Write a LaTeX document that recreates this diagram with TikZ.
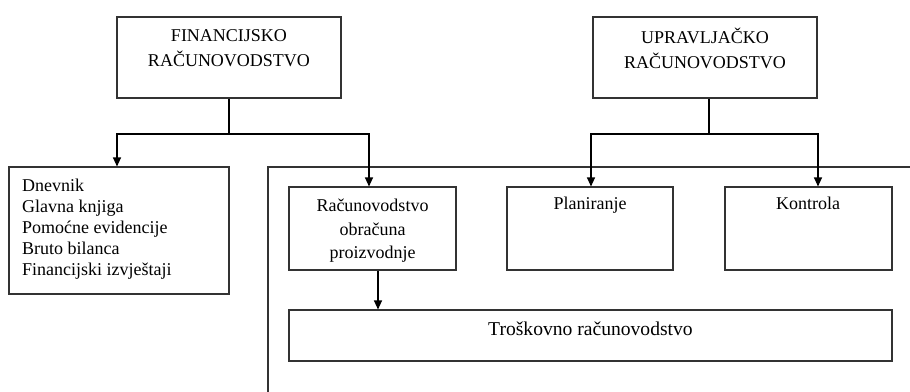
\documentclass[tikz,border=0pt]{standalone}
\usepackage{fontspec}
\setmainfont{Liberation Serif}
\usetikzlibrary{arrows.meta}
\begin{document}
\begin{tikzpicture}[x=1pt,y=-1pt,
  box/.style={draw=black!80, line width=1.1pt, rectangle, inner sep=0pt},
  txt/.style={font=\fontsize{18}{21}\selectfont, inner sep=0pt},
  arr/.style={line width=1.1pt, -{Triangle[length=9pt,width=8pt]}},
  ln/.style={line width=1.1pt}]
\useasboundingbox (0,0) rectangle (910,391);
% frame
\draw[ln, draw=black!80] (268,400) -- (268,167) -- (920,167);
% boxes
\node[box, minimum width=224pt, minimum height=81pt] (fin) at (229,57.5) {};
\node[box, minimum width=224pt, minimum height=81pt] (upr) at (705,57.5) {};
\node[box, minimum width=220pt, minimum height=127pt] (dn) at (119,230.5) {};
\node[box, minimum width=167pt, minimum height=83pt] (ro) at (372.5,228.5) {};
\node[box, minimum width=166pt, minimum height=83pt] (pl) at (590,228.5) {};
\node[box, minimum width=167pt, minimum height=83pt] (ko) at (808.5,228.5) {};
\node[box, minimum width=603pt, minimum height=51pt] (tro) at (590.5,335.5) {};
% texts
\node[txt, align=center, font=\fontsize{18}{25}\selectfont] (fint) at (229,48) {FINANCIJSKO\\RAČUNOVODSTVO};
\node[txt, align=center, font=\fontsize{18}{25}\selectfont] (uprt) at (705,48) {UPRAVLJAČKO\\RAČUNOVODSTVO};
\node[txt, align=left, anchor=west] (dnt) at (22,229) {Dnevnik\\Glavna knjiga\\Pomoćne evidencije\\Bruto bilanca\\Financijski izvještaji};
\node[txt, align=center, font=\fontsize{18}{23.5}\selectfont] (rot) at (372.5,231) {Računovodstvo\\obračuna\\proizvodnje};
\node[txt, anchor=base] (plt) at (590,209) {Planiranje};
\node[txt, anchor=base] (kot) at (808,209) {Kontrola};
\node[txt, anchor=base, font=\fontsize{19.6}{22}\selectfont] (trot) at (590.5,335) {Troškovno računovodstvo};
% connectors
\coordinate (fj) at (229,134);
\draw[ln] (fin.south) -- (fj);
\draw[arr] (fj) -| ([xshift=-2pt]dn.north);
\draw[arr] (fj) -| ([xshift=-3.5pt]ro.north);
\coordinate (uj) at (709,134);
\draw[ln] ([xshift=4pt]upr.south) -- (uj);
\draw[arr] (uj) -| ([xshift=1pt]pl.north);
\draw[arr] (uj) -| ([xshift=9.5pt]ko.north);
\draw[arr] ([xshift=5.5pt]ro.south) -- ([xshift=5.5pt]ro.south |- tro.north);
\end{tikzpicture}
\end{document}
